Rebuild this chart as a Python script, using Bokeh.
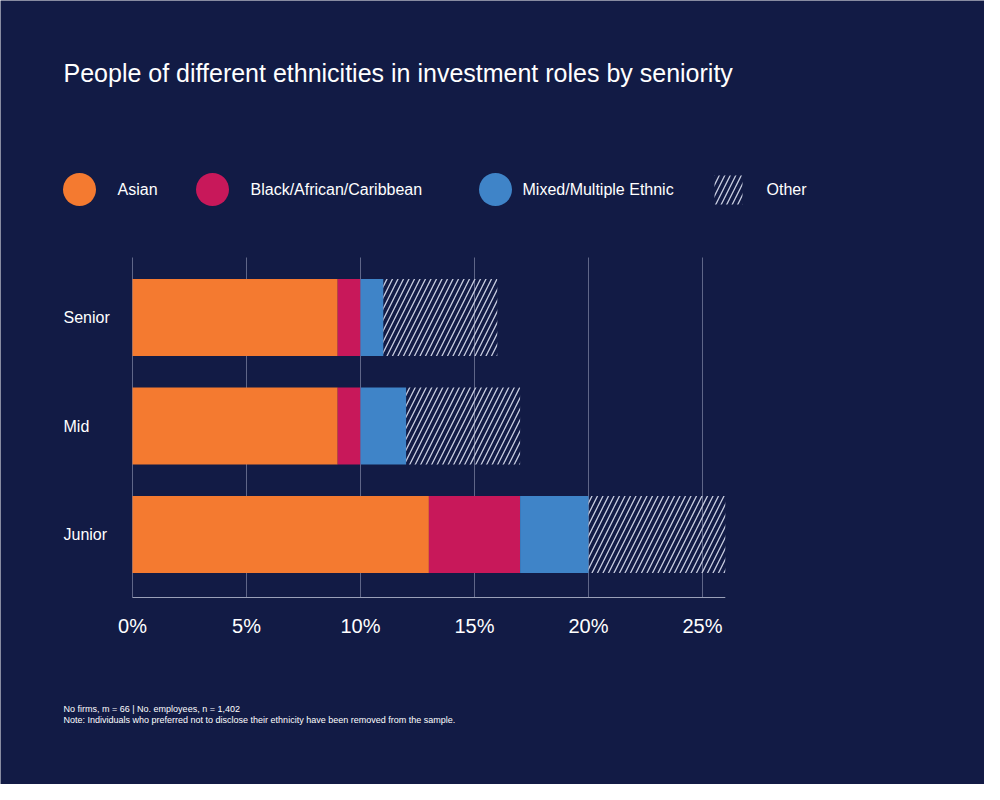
from bokeh.plotting import figure
from bokeh.models import Label, Range1d
from bokeh.core.properties import value
from bokeh.embed import file_html
from bokeh.resources import INLINE

levels = ["Junior", "Mid", "Senior"]
asian = [13, 9, 9]
black = [4, 1, 1]
mixed = [3, 2, 1]
other = [6, 5, 5]
series = ["Asian", "Black/African/Caribbean", "Mixed/Multiple Ethnic", "Other"]
colors = ["#f47a30", "#c8185a", "#3f84c8", None]
xticks = [0, 5, 10, 15, 20, 25]
xlabels = [f"{t}%" for t in xticks]

BG = "#121b45"
FONT = "Liberation Sans"
PXX = 22.8
PXY = 108.5
def dx(px): return (px - 140) / PXX
def dy(py): return (542 - py) / PXY

p = figure(width=984, height=784, output_backend="svg", toolbar_location=None,
           x_range=Range1d(dx(8), dx(992)), y_range=Range1d(dy(792), dy(8)),
           min_border_left=0, min_border_right=0, min_border_top=0, min_border_bottom=0,
           background_fill_color=BG, border_fill_color=BG, outline_line_color=None)
p.grid.visible = False
p.axis.visible = False

ys = [0, 1, 2]
p.segment(x0=xticks, x1=xticks, y0=[dy(265)] * 6, y1=[dy(605)] * 6, line_color="#5f6688", line_width=1)
p.segment(x0=[0], x1=[26], y0=[dy(605)], y1=[dy(605)], line_color="#9aa0b8", line_width=1)
p.text(x=xticks, y=[dy(633)] * 6, text=xlabels, text_color="white", text_font=value(FONT),
       text_font_size="20px", text_baseline="middle", text_align="center")

left = [0, 0, 0]
h = 0.71
for vals, c in zip([asian, black, mixed], colors[:3]):
    right = [l + v for l, v in zip(left, vals)]
    p.hbar(y=ys, left=left, right=right, height=h, fill_color=c, line_color=None)
    left = right
right = [l + v for l, v in zip(left, other)]
p.hbar(y=ys, left=left, right=right, height=h, fill_alpha=0, line_color=None,
       hatch_pattern="/", hatch_color="#c8cce0", hatch_scale=11, hatch_weight=1.3)

p.text(x=[dx(71)] * 3, y=ys, text=levels, text_color="white", text_font=value(FONT),
       text_font_size="16px", text_baseline="middle", text_align="left")

ly = dy(197)
cx = [dx(87), dx(220), dx(503)]
tx = [dx(125), dx(258), dx(530), dx(774)]
p.scatter(x=cx, y=[ly] * 3, size=33, fill_color=colors[:3], line_color=None)
p.quad(left=[dx(722)], right=[dx(750)], bottom=[dy(212)], top=[dy(183)], fill_alpha=0,
       line_color=None, hatch_pattern="/", hatch_color="#c8cce0", hatch_scale=11, hatch_weight=1.3)
p.text(x=tx, y=[ly] * 4, text=series, text_color="white", text_font=value(FONT),
       text_font_size="16px", text_baseline="middle")

p.add_layout(Label(x=dx(71), y=dy(66), text="People of different ethnicities in investment roles by seniority",
                   text_color="white", text_font=FONT, text_font_size="25px", text_baseline="top"))
p.add_layout(Label(x=dx(71), y=dy(711), text="No firms, m = 66  |  No. employees, n = 1,402",
                   text_color="white", text_font=FONT, text_font_size="9px", text_baseline="top"))
p.add_layout(Label(x=dx(71), y=dy(722), text="Note: Individuals who preferred not to disclose their ethnicity have been removed from the sample.",
                   text_color="white", text_font=FONT, text_font_size="9px", text_baseline="top"))

open("out.html", "w").write(file_html(p, INLINE))
